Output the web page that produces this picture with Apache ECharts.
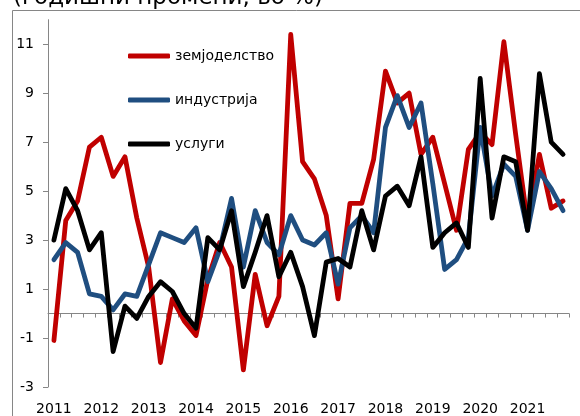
<!DOCTYPE html>
<html>
<head>
<meta charset="utf-8">
<script src="https://cdn.jsdelivr.net/npm/echarts@6/dist/echarts.min.js"></script>
<style>
  html, body { margin: 0; padding: 0; background: #fff; }
  #chart { width: 580px; height: 416px; }
</style>
</head>
<body>
<div id="chart"></div>
<script>
// години (квартали, по 4 за секоја година)
const years = ['2011', '2012', '2013', '2014', '2015', '2016', '2017', '2018', '2019', '2020', '2021'];
const quarters = [];
years.forEach(y => { for (let q = 1; q <= 4; q++) quarters.push(y + 'Q' + q); });

// годишни промени, во %
const zemjodelstvo = [
  -1.1, 3.8, 4.6, 6.8, 7.2, 5.6, 6.4, 3.9, 1.9, -2.0, 0.6,
  -0.3, -0.9, 1.4, 2.9, 1.9, -2.3, 1.6, -0.5, 0.7, 11.4, 6.2,
  5.5, 4.0, 0.6, 4.5, 4.5, 6.3, 9.9, 8.6, 9.0, 6.5, 7.2,
  5.3, 3.4, 6.7, 7.4, 6.9, 11.1, 7.3, 3.7, 6.5, 4.3, 4.6
];
const industrija = [
  2.2, 2.9, 2.5, 0.8, 0.7, 0.15, 0.8, 0.7, 2.0, 3.3, 3.1,
  2.9, 3.5, 1.3, 2.6, 4.7, 1.9, 4.2, 2.9, 2.4, 4.0, 3.0,
  2.8, 3.3, 1.2, 3.5, 4.0, 3.3, 7.6, 8.9, 7.6, 8.6, 5.3,
  1.8, 2.2, 3.1, 7.6, 4.8, 6.1, 5.6, 3.4, 5.8, 5.1, 4.2
];
const uslugi = [
  3.0, 5.1, 4.2, 2.6, 3.3, -1.55, 0.3, -0.2, 0.7, 1.3, 0.9,
  0.0, -0.6, 3.1, 2.6, 4.2, 1.1, 2.5, 4.0, 1.5, 2.5, 1.1,
  -0.9, 2.1, 2.25, 1.9, 4.2, 2.6, 4.8, 5.2, 4.4, 6.4, 2.7,
  3.3, 3.7, 2.7, 9.6, 3.9, 6.4, 6.2, 3.4, 9.8, 7.0, 6.5
];
const yTicks = [-3, -1, 1, 3, 5, 7, 9, 11];

const font = '"DejaVu Sans", Verdana, sans-serif';
const gray = '#868686';

const chart = echarts.init(document.getElementById('chart'));

const lineStyle = (c) => ({ color: c, width: 4.8, cap: 'round', join: 'round' });

const option = {
  animation: false,
  color: ['#C00000', '#1F4E80', '#000000'],
  graphic: [
    {
      type: 'rect', z: -1, silent: true,
      shape: { x: 12.5, y: 10.5, width: 620, height: 500 },
      style: { fill: 'none', stroke: gray, lineWidth: 1 }
    },
    {
      type: 'text', left: 13, top: -13, silent: true,
      style: { text: '(годишни промени, во %)', font: '23px ' + font, fill: '#000' }
    }
  ],
  legend: {
    orient: 'vertical',
    left: 123,
    top: 44,
    itemGap: 30,
    itemWidth: 42,
    itemHeight: 5,
    icon: 'roundRect',
    textStyle: { fontFamily: font, fontSize: 14, color: '#000' },
    data: ['земјоделство', 'индустрија', 'услуги']
  },
  grid: { left: 48, right: 11, top: 19.7, bottom: 29, containLabel: false },
  xAxis: [
    {
      type: 'category',
      data: quarters,
      boundaryGap: true,
      axisLine: { onZero: true, lineStyle: { color: gray, width: 1 } },
      axisTick: { show: true, interval: 0, length: 4, lineStyle: { color: gray } },
      axisLabel: { show: false },
      splitLine: { show: false }
    },
    {
      type: 'category',
      data: quarters,
      position: 'bottom',
      boundaryGap: true,
      axisLine: { show: false, onZero: false },
      axisTick: { show: false },
      axisLabel: {
        interval: 3,
        margin: 15,
        fontFamily: font,
        fontSize: 14,
        color: '#000',
        formatter: v => v.slice(0, 4)
      },
      splitLine: { show: false }
    }
  ],
  yAxis: {
    type: 'value',
    min: -3,
    max: 12,
    interval: 1,
    axisLine: { show: true, lineStyle: { color: gray, width: 1 } },
    axisTick: { show: true, length: 5, lineStyle: { color: gray }, customValues: yTicks },
    axisLabel: { margin: 14, fontFamily: font, fontSize: 14, color: '#000', customValues: yTicks },
    splitLine: { show: false }
  },
  series: [
    { name: 'земјоделство', type: 'line', xAxisIndex: 0, data: zemjodelstvo, showSymbol: false, lineStyle: lineStyle('#C00000') },
    { name: 'индустрија', type: 'line', xAxisIndex: 0, data: industrija, showSymbol: false, lineStyle: lineStyle('#1F4E80') },
    { name: 'услуги', type: 'line', xAxisIndex: 0, data: uslugi, showSymbol: false, lineStyle: lineStyle('#000000') }
  ]
};

chart.setOption(option);
</script>
</body>
</html>
